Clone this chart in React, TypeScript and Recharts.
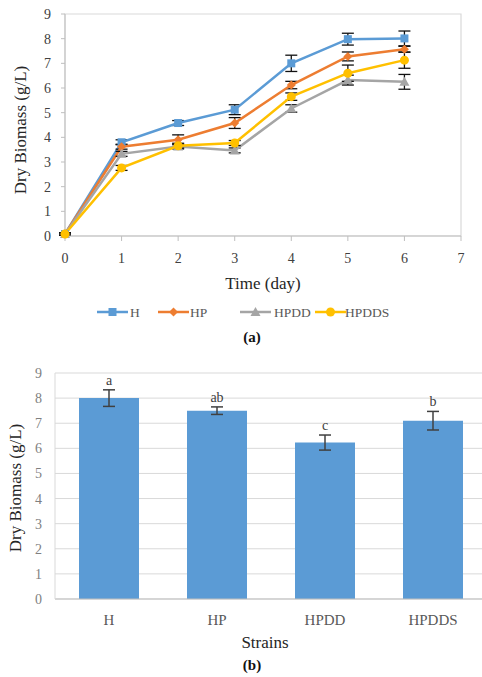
import React from 'react';
import {
  LineChart, Line, XAxis, YAxis, ErrorBar, ReferenceArea,
  BarChart, Bar, CartesianGrid, LabelList,
} from 'recharts';

// ---------- data: panel (a) ----------
const days = [0, 1, 2, 3, 4, 5, 6];
const hValues = [0.08, 3.8, 4.58, 5.12, 7.0, 7.98, 8.01];
const hpValues = [0.08, 3.62, 3.9, 4.58, 6.12, 7.28, 7.57];
const hpddValues = [0.08, 3.33, 3.63, 3.47, 5.17, 6.32, 6.25];
const hpddsValues = [0.08, 2.76, 3.66, 3.77, 5.65, 6.6, 7.13];
const hErr = [0.05, 0.1, 0.1, 0.2, 0.33, 0.24, 0.3];
const hpErr = [0.05, 0.1, 0.2, 0.22, 0.15, 0.18, 0.12];
const hpddErr = [0.05, 0.1, 0.1, 0.1, 0.15, 0.2, 0.3];
const hpddsErr = [0.05, 0.1, 0.1, 0.1, 0.15, 0.33, 0.33];
const xTicks = [0, 1, 2, 3, 4, 5, 6, 7];
const yTicks = [0, 1, 2, 3, 4, 5, 6, 7, 8, 9];
const seriesNames = ['H', 'HP', 'HPDD', 'HPDDS'];

// ---------- data: panel (b) ----------
const strains = ['H', 'HP', 'HPDD', 'HPDDS'];
const finalValues = [8.0, 7.5, 6.23, 7.1];
const finalErr = [0.33, 0.15, 0.3, 0.37];
const letters = ['a', 'ab', 'c', 'b'];

const lineData = days.map((d, i) => ({
  day: d,
  H: hValues[i], HErr: hErr[i],
  HP: hpValues[i], HPErr: hpErr[i],
  HPDD: hpddValues[i], HPDDErr: hpddErr[i],
  HPDDS: hpddsValues[i], HPDDSErr: hpddsErr[i],
}));

const barData = strains.map((s, i) => ({
  name: s, value: finalValues[i], err: finalErr[i], letter: letters[i],
}));

const BLUE = '#5B9BD5';
const ORANGE = '#ED7D31';
const GRAY = '#A5A5A5';
const YELLOW = '#FFC000';
const FONT = '"Liberation Serif", "Times New Roman", serif';

const markerShape = (kind: string, color: string, cx: number, cy: number, key?: any) => {
  if (kind === 'square') return <rect key={key} x={cx - 4} y={cy - 4} width={8} height={8} fill={color} />;
  if (kind === 'diamond') return <polygon key={key} points={`${cx},${cy - 4.5} ${cx + 4.5},${cy} ${cx},${cy + 4.5} ${cx - 4.5},${cy}`} fill={color} />;
  if (kind === 'triangle') return <polygon key={key} points={`${cx},${cy - 5} ${cx + 5},${cy + 4} ${cx - 5},${cy + 4}`} fill={color} />;
  return <circle key={key} cx={cx} cy={cy} r={4.5} fill={color} />;
};

const makeDot = (kind: string, color: string) => (props: any) => {
  const { cx, cy, index } = props;
  if (cx == null || cy == null) return <g key={index} />;
  return markerShape(kind, color, cx, cy, index);
};

const seriesStyle = [
  { key: 'H', color: BLUE, kind: 'square' },
  { key: 'HP', color: ORANGE, kind: 'diamond' },
  { key: 'HPDD', color: GRAY, kind: 'triangle' },
  { key: 'HPDDS', color: YELLOW, kind: 'circle' },
];

const LetterLabel = (props: any) => {
  const { x, y, width, height, index } = props;
  const d = barData[index];
  const pxPerUnit = height / d.value;
  const top = y - d.err * pxPerUnit;
  return (
    <text x={x + width / 2} y={top - 5} textAnchor="middle" fontFamily={FONT} fontSize={14} fill="#404040">
      {d.letter}
    </text>
  );
};

const legendItems = [
  { x: 97, textX: 130 },
  { x: 158, textX: 190 },
  { x: 240, textX: 274 },
  { x: 315, textX: 345 },
];

export default function App() {
  return (
    <div style={{ position: 'absolute', left: 0, top: 0, width: 482, height: 677, overflow: 'hidden', background: '#fff', fontFamily: FONT }}>
      <div style={{ position: 'absolute', left: 0, top: 0 }}>
        <LineChart width={482} height={270} data={lineData} margin={{ top: 14, right: 21, left: 20, bottom: 0 }}>
          <ReferenceArea x1={0} x2={7} y1={0} y2={9} fill="none" stroke="#d9d9d9" strokeWidth={1.2} />
          <XAxis
            dataKey="day" type="number" domain={[0, 7]} ticks={xTicks} height={34}
            axisLine={{ stroke: '#bfbfbf' }} tickLine={{ stroke: '#bfbfbf' }} tickSize={5} tickMargin={12}
            tick={{ fill: '#404040', fontSize: 14, fontFamily: FONT }}
          />
          <YAxis
            type="number" domain={[0, 9]} ticks={yTicks} width={45}
            axisLine={{ stroke: '#bfbfbf' }} tickLine={{ stroke: '#bfbfbf' }} tickSize={4} tickMargin={10}
            tick={{ fill: '#404040', fontSize: 14, fontFamily: FONT }}
          />
          {seriesStyle.map((s) => (
            <Line
              key={s.key} dataKey={s.key} stroke={s.color} strokeWidth={2.5}
              dot={makeDot(s.kind, s.color)} activeDot={false} isAnimationActive={false}
            >
              <ErrorBar dataKey={`${s.key}Err`} direction="y" width={6} stroke="#111" strokeWidth={1.3} />
            </Line>
          ))}
        </LineChart>
      </div>

      <div style={{ position: 'absolute', left: 0, top: 345 }}>
        <BarChart width={500} height={284} data={barData} margin={{ top: 28, right: 13, left: 10, bottom: 0 }} barSize={60}>
          <CartesianGrid vertical={false} stroke="#d9d9d9" />
          <XAxis
            dataKey="name" height={30} axisLine={{ stroke: '#bfbfbf' }} tickLine={false} tickSize={0} tickMargin={15}
            tick={{ fill: '#595959', fontSize: 15, fontFamily: FONT }}
          />
          <YAxis
            type="number" domain={[0, 9]} ticks={yTicks} width={45}
            axisLine={{ stroke: '#d9d9d9' }} tickLine={false} tickSize={0} tickMargin={13}
            tick={{ fill: '#7f7f7f', fontSize: 14, fontFamily: FONT }}
          />
          <Bar dataKey="value" fill={BLUE} isAnimationActive={false}>
            <ErrorBar dataKey="err" direction="y" width={6} stroke="#404040" strokeWidth={1.5} />
            <LabelList dataKey="letter" content={LetterLabel} />
          </Bar>
        </BarChart>
      </div>

      <svg width={482} height={677} style={{ position: 'absolute', left: 0, top: 0, pointerEvents: 'none' }}>
        <text x={20} y={130} transform="rotate(-90, 20, 130)" textAnchor="middle" dominantBaseline="central" fontFamily={FONT} fontSize={17} fill="#262626">
          Dry Biomass (g/L)
        </text>
        <text x={263} y={283} textAnchor="middle" dominantBaseline="central" fontFamily={FONT} fontSize={17} fill="#262626">
          Time (day)
        </text>
        {seriesStyle.map((s, i) => (
          <g key={s.key}>
            <line x1={legendItems[i].x} x2={legendItems[i].x + 31} y1={312} y2={312} stroke={s.color} strokeWidth={2.5} />
            {markerShape(s.kind, s.color, legendItems[i].x + 15.5, 312)}
            <text x={legendItems[i].textX} y={312} dominantBaseline="central" fontFamily={FONT} fontSize={13.5} fill="#595959">
              {seriesNames[i]}
            </text>
          </g>
        ))}
        <text x={252} y={337} textAnchor="middle" dominantBaseline="central" fontFamily={FONT} fontSize={15} fontWeight="bold" fill="#111">
          (a)
        </text>
        <text x={15} y={488} transform="rotate(-90, 15, 488)" textAnchor="middle" dominantBaseline="central" fontFamily={FONT} fontSize={17} fill="#262626">
          Dry Biomass (g/L)
        </text>
        <text x={265} y={642} textAnchor="middle" dominantBaseline="central" fontFamily={FONT} fontSize={17} fill="#262626">
          Strains
        </text>
        <text x={252} y={665} textAnchor="middle" dominantBaseline="central" fontFamily={FONT} fontSize={15} fontWeight="bold" fill="#111">
          (b)
        </text>
      </svg>
    </div>
  );
}
